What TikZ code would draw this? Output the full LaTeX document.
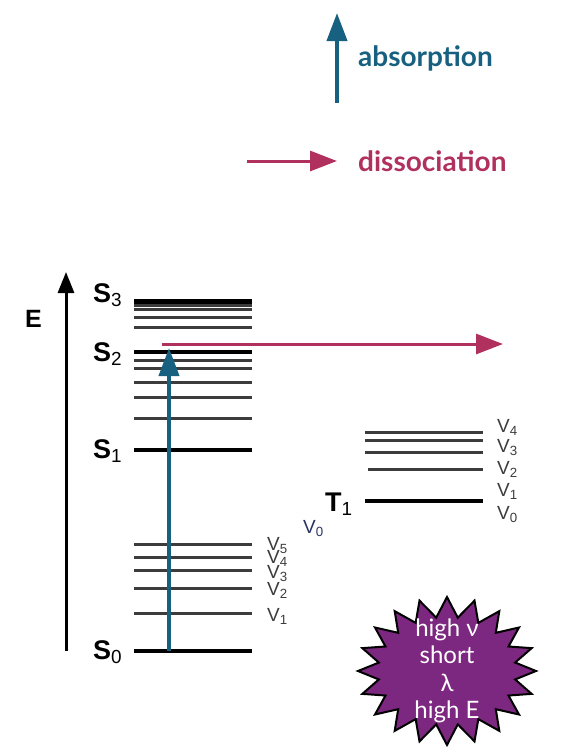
\documentclass[tikz,border=0pt]{standalone}
\usepackage{fontspec}
\setmainfont{Liberation Sans}
\newfontfamily\legendfont{Lato}
\usetikzlibrary{arrows.meta, shapes.symbols}

\definecolor{absblue}{RGB}{24,96,128}
\definecolor{disred}{RGB}{176,48,94}
\definecolor{burstpurple}{RGB}{125,40,128}
\definecolor{levelgray}{RGB}{60,60,60}
\definecolor{vnavy}{RGB}{40,50,100}

\tikzset{
  level/.style={levelgray, line width=3pt},
  mainlevel/.style={black, line width=4.5pt},
  slabel/.style={font=\fontsize{27}{27}\selectfont, anchor=base west, inner sep=0pt},
  vlabel/.style={font=\fontsize{19}{19}\selectfont, text=levelgray, anchor=base west, inner sep=0pt},
  legend/.style={font=\legendfont\bfseries\fontsize{28}{28}\selectfont, anchor=west, inner sep=0pt},
  absarrow/.style={absblue, line width=4pt, -{Triangle[length=28pt, width=20pt]}},
  disarrow/.style={disred, line width=3pt, -{Triangle[length=27pt, width=20pt]}},
}

\begin{document}
\begin{tikzpicture}[x=1pt, y=-1pt]
  \useasboundingbox (0,0) rectangle (562,748);

  \coordinate (legabsbot) at (337,103);
  \coordinate (legabstop) at (337,13);
  \coordinate (legdisl) at (247,161);
  \coordinate (legdisr) at (337,161);
  \draw [absarrow] (legabsbot) -- (legabstop);
  \draw [disarrow] (legdisl) -- (legdisr);
  \node [legend, text=absblue] (absorption) at (358,58) {absorption};
  \node [legend, text=disred] (dissociation) at (358,161) {dissociation};

  \coordinate (ebot) at (66,651);
  \coordinate (etop) at (66,272);
  \draw [line width=3pt, -{Triangle[length=21pt, width=16pt]}] (ebot) -- (etop);
  \node [slabel, font=\fontsize{25}{25}\selectfont\bfseries] (E) at (25,327) {E};

  \foreach \y in {305,309.5,317,327,360,368,382,397,418,544,557,570,588,613}
    \draw [level] (134,\y) -- (252,\y);
  \foreach \y in {301.5,352,450,651}
    \draw [mainlevel] (134,\y) -- (252,\y);

  \node [slabel] (S3) at (93,302) {\textbf{S}\textsubscript{3}};
  \node [slabel] (S2) at (93,361) {\textbf{S}\textsubscript{2}};
  \node [slabel] (S1) at (93,458) {\textbf{S}\textsubscript{1}};
  \node [slabel] (S0) at (93,659) {\textbf{S}\textsubscript{0}};

  \node [vlabel] (l5) at (267,550) {V\textsubscript{5}};
  \node [vlabel] (l4) at (267,563) {V\textsubscript{4}};
  \node [vlabel] (l3) at (267,578) {V\textsubscript{3}};
  \node [vlabel] (l2) at (267,595) {V\textsubscript{2}};
  \node [vlabel] (l1) at (267,621) {V\textsubscript{1}};

  \foreach \y in {432,440,452}
    \draw [level] (365,\y) -- (483,\y);
  \draw [level] (368,469) -- (483,469);
  \draw [mainlevel] (365,501) -- (483,501);

  \node [slabel] (T1) at (325,511) {\textbf{T}\textsubscript{1}};
  \node [vlabel, text=vnavy] (t0) at (303,533) {V\textsubscript{0}};

  \node [vlabel] (r4) at (497,432) {V\textsubscript{4}};
  \node [vlabel] (r3) at (497,452) {V\textsubscript{3}};
  \node [vlabel] (r2) at (497,474) {V\textsubscript{2}};
  \node [vlabel] (r1) at (497,496) {V\textsubscript{1}};
  \node [vlabel] (r0) at (497,519) {V\textsubscript{0}};

  \coordinate (absstart) at (169,651);
  \coordinate (absend) at (169,348);
  \coordinate (disstart) at (162,344);
  \coordinate (disend) at (503,344);
  \draw [absarrow] (absstart) -- (absend);
  \draw [disarrow] (disstart) -- (disend);

  \node [starburst, starburst points=20, starburst point height=20pt, random starburst=0,
    fill=burstpurple, draw=black, line width=2pt, minimum width=178pt, minimum height=148pt,
    inner sep=0pt] (burst) at (447,671) {};
  \node [align=center, text=white, inner sep=0pt,
    font=\legendfont\fontsize{24}{27.5}\selectfont] (bursttext) at (burst.center)
    {high ν\\short\\λ\\high E};
\end{tikzpicture}
\end{document}
